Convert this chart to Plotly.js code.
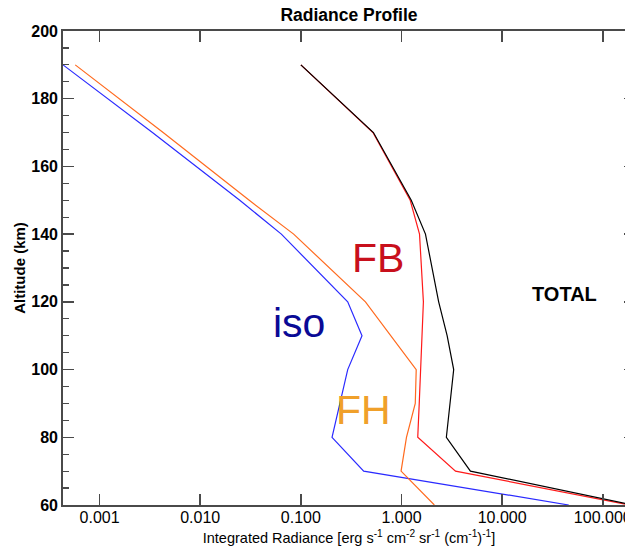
<!DOCTYPE html>
<html>
<head>
<meta charset="utf-8">
<script src="https://cdn.plot.ly/plotly-3.0.1.min.js"></script>
<style>
  html, body { margin: 0; padding: 0; overflow: hidden; background: #fff; }
  #chart { width: 645px; height: 546px; }
</style>
</head>
<body>
<div id="chart"></div>
<script>
// Altitude levels (km) and integrated radiance per component
const altitude = [190, 170, 150, 140, 120, 110, 100, 90, 80, 70, 60];
const total = [0.100, 0.526, 1.25, 1.73, 2.34, 2.84, 3.30, 3.06, 2.79, 4.84, 200];
const fb    = [0.100, 0.520, 1.22, 1.51, 1.65, 1.59, 1.54, 1.50, 1.45, 3.44, 185];
const fh    = [5.73e-4, 0.00428, 0.0307, 0.0848, 0.438, 0.776, 1.40, 1.37, 1.12, 0.99, 2.12];
const iso   = [4.33e-4, 0.00335, 0.0247, 0.064, 0.292, 0.405, 0.292, 0.243, 0.204, 0.421, 45.9];

const xTickVals = [0.001, 0.01, 0.1, 1, 10, 100];
const xTickText = ['0.001', '0.010', '0.100', '1.000', '10.000', '100.000'];
const yTickVals = [60, 80, 100, 120, 140, 160, 180, 200];

const sans = '"Liberation Sans", Arial, sans-serif';
const axisColor = '#4a4a4a';

function profile(values, color) {
  return {
    x: values, y: altitude, type: 'scatter', mode: 'lines',
    line: { color: color, width: 1.2 }, hoverinfo: 'skip', showlegend: false
  };
}

const data = [
  profile(iso, '#2a2aff'),
  profile(fh, '#ff6a1e'),
  profile(fb, '#ff1a1a'),
  profile(total, '#000000')
];

const layout = {
  width: 645, height: 546,
  margin: { l: 63, r: 10, t: 31, b: 41 },
  paper_bgcolor: '#fff', plot_bgcolor: '#fff',
  title: {
    text: '<b>Radiance Profile</b>',
    font: { family: sans, size: 17.5, color: '#000' },
    x: 0.5, xref: 'paper', xanchor: 'center',
    y: 1 - 15 / 546, yref: 'container', yanchor: 'middle'
  },
  xaxis: {
    type: 'log',
    range: [Math.log10(4.33e-4), 2.32],
    tickvals: xTickVals, ticktext: xTickText,
    ticks: 'inside', ticklen: 11, tickwidth: 1.5, tickcolor: axisColor,
    showline: true, linecolor: axisColor, linewidth: 1.8, mirror: 'ticks',
    showgrid: false, zeroline: false,
    tickfont: { family: sans, size: 16, color: '#000' },
    ticklabelstandoff: -3,
    title: {
      text: 'Integrated Radiance [erg s<sup>-1</sup> cm<sup>-2</sup> sr<sup>-1</sup> (cm<sup>-1</sup>)<sup>-1</sup>]',
      font: { family: sans, size: 14.5, color: '#000' },
      standoff: 13
    }
  },
  yaxis: {
    range: [60, 200],
    tickvals: yTickVals,
    ticks: 'inside', ticklen: 11, tickwidth: 1.5, tickcolor: axisColor,
    minor: { dtick: 5, ticks: 'inside', ticklen: 6, tickwidth: 1.2, tickcolor: axisColor, showgrid: false },
    showline: true, linecolor: axisColor, linewidth: 1.8, mirror: 'ticks',
    showgrid: false, zeroline: false,
    tickfont: { family: sans, size: 16, color: '#000', weight: 'bold' },
    title: {
      text: '<b>Altitude (km)</b>',
      font: { family: sans, size: 15, color: '#000' },
      standoff: 2
    }
  },
  annotations: [
    { text: 'FB', xref: 'paper', yref: 'paper', x: 0.551, y: 0.521, showarrow: false,
      xanchor: 'center', yanchor: 'middle', font: { family: sans, size: 41, color: '#c8101c' } },
    { text: 'iso', xref: 'paper', yref: 'paper', x: 0.412, y: 0.384, showarrow: false,
      xanchor: 'center', yanchor: 'middle', font: { family: sans, size: 41, color: '#0a0a96' } },
    { text: 'FH', xref: 'paper', yref: 'paper', x: 0.525, y: 0.2, showarrow: false,
      xanchor: 'center', yanchor: 'middle', font: { family: sans, size: 41, color: '#f0a02a' } },
    { text: '<b>TOTAL</b>', xref: 'paper', yref: 'paper', x: 0.876, y: 0.445, showarrow: false,
      xanchor: 'center', yanchor: 'middle', font: { family: sans, size: 20, color: '#000' } }
  ]
};

Plotly.newPlot('chart', data, layout, { staticPlot: true, displayModeBar: false });
</script>
</body>
</html>
